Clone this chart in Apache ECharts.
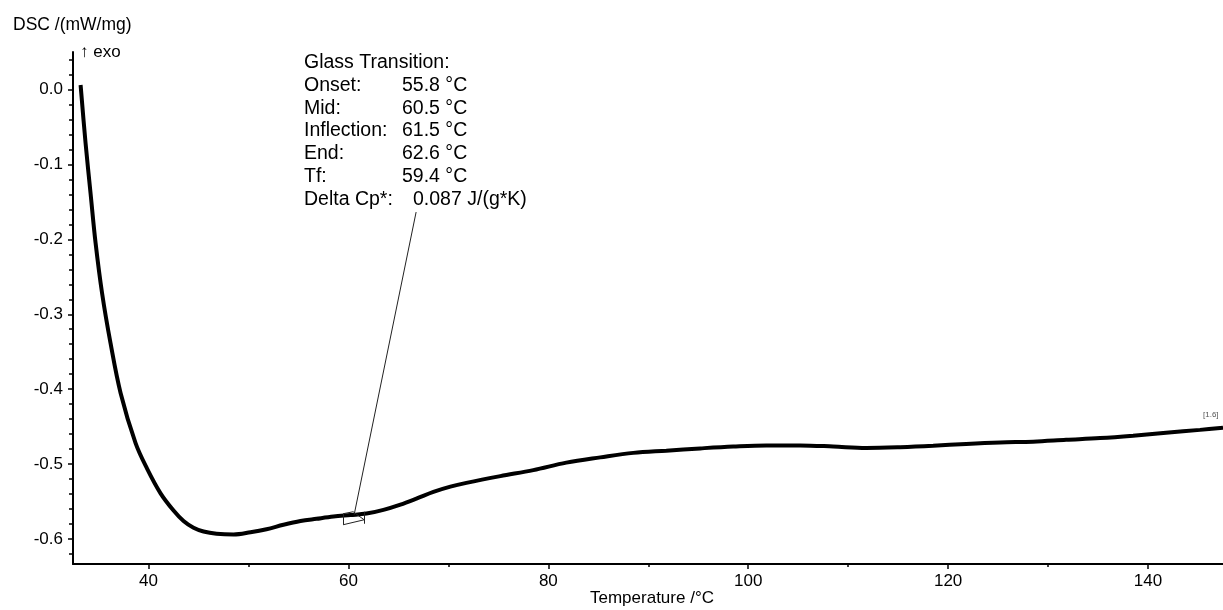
<!DOCTYPE html>
<html>
<head>
<meta charset="utf-8">
<script src="https://cdn.jsdelivr.net/npm/echarts@6/dist/echarts.min.js"></script>
<style>html,body{margin:0;padding:0;background:#fff}#c{width:1223px;height:610px}</style>
</head>
<body>
<div id="c"></div>
<script>
// ---- data ----
var temps = [33.2, 33.7, 34.2, 34.7, 35.35, 36.2, 37.2, 38.7, 39.85, 41.2, 42.5, 43.5, 44.5, 45.5, 46.8, 48.5, 50.2, 51.8, 53.5, 55.2, 56.8, 58.5, 60.2, 61.8, 63.5, 65.2, 66.8, 68.5, 70.2, 71.8, 75.2, 78.5, 81.8, 85.2, 88.5, 91.8, 95.2, 98.5, 101.8, 105.2, 108.5, 111.8, 115.2, 118.5, 121.8, 125.2, 128.5, 131.8, 135.2, 138.5, 141.8, 145.2, 147.5];
var dsc = [0.006, -0.072, -0.139, -0.205, -0.272, -0.339, -0.405, -0.472, -0.506, -0.539, -0.562, -0.576, -0.585, -0.590, -0.593, -0.594, -0.591, -0.587, -0.581, -0.576, -0.573, -0.570, -0.568, -0.566, -0.561, -0.554, -0.546, -0.537, -0.530, -0.525, -0.516, -0.508, -0.498, -0.491, -0.485, -0.482, -0.479, -0.4765, -0.475, -0.475, -0.4765, -0.4785, -0.4775, -0.4756, -0.473, -0.471, -0.470, -0.4676, -0.4653, -0.462, -0.458, -0.4543, -0.4516];
var xMajorTicks = [40, 60, 80, 100, 120, 140];
var xMinorTicks = [50, 70, 90, 110, 130];
var yMajorTicks = [-0.6, -0.5, -0.4, -0.3, -0.2, -0.1, 0.0];
var yMinorTicks = [-0.62, -0.58, -0.56, -0.54, -0.52, -0.48, -0.46, -0.44, -0.42, -0.38, -0.36, -0.34, -0.32, -0.28, -0.26, -0.24, -0.22, -0.18, -0.16, -0.14, -0.12, -0.08, -0.06, -0.04, -0.02, 0.02, 0.04];
var annotLabels = ['Onset:', 'Mid:', 'Inflection:', 'End:', 'Tf:', 'Delta Cp*:'];
var annotValues = ['55.8 °C', '60.5 °C', '61.5 °C', '62.6 °C', '59.4 °C', '0.087 J/(g*K)'];
var leaderLine = [[66.77, -0.1636], [60.57, -0.5676]];
var tgMarker = [[59.47, -0.5662], [60.47, -0.5636], [61.57, -0.5743], [59.47, -0.5809]];
var tgTick = [[61.57, -0.5636], [61.57, -0.5796]];

var FONT = 'Liberation Sans, Arial, sans-serif';
var chart = echarts.init(document.getElementById('c'));
var seriesData = temps.map(function (t, i) { return [t, dsc[i]]; });

var markerSegs = [];
for (var i = 0; i < tgMarker.length; i++) {
  var a = tgMarker[i], b = tgMarker[(i + 1) % tgMarker.length];
  markerSegs.push([{ coord: a }, { coord: b }]);
}
markerSegs.push([{ coord: tgTick[0] }, { coord: tgTick[1] }]);
markerSegs.push([{ coord: leaderLine[0] }, { coord: leaderLine[1] }]);

var graphics = [
  { type: 'text', left: 13, top: 16, style: { text: 'DSC /(mW/mg)', font: '17.5px ' + FONT, fill: '#000' } },
  { type: 'text', left: 80, top: 44, style: { text: '↑ exo', font: '17px ' + FONT, fill: '#000' } },
  { type: 'text', left: 590, top: 590, style: { text: 'Temperature /°C', font: '17px ' + FONT, fill: '#000' } },
  { type: 'text', left: 304, top: 53, style: { text: 'Glass Transition:', font: '19.5px ' + FONT, fill: '#000' } },
  { type: 'text', left: 1203, top: 411, style: { text: '[1.6]', font: '8px ' + FONT, fill: '#555' } }
];
for (var k = 0; k < annotLabels.length; k++) {
  var yy = 53 + 22.7 * (k + 1);
  graphics.push({ type: 'text', left: 304, top: yy, style: { text: annotLabels[k], font: '19.5px ' + FONT, fill: '#000' } });
  graphics.push({ type: 'text', left: k === 5 ? 413 : 402, top: yy, style: { text: annotValues[k], font: '19.5px ' + FONT, fill: '#000' } });
}

var axisLabelStyle = { color: '#000', fontSize: 17, fontFamily: FONT };

chart.setOption({
  animation: false,
  backgroundColor: '#fff',
  grid: { left: 73, right: 0, top: 52, bottom: 46, containLabel: false },
  xAxis: [
    {
      type: 'value', min: 32.44, max: 147.5,
      axisLine: { show: true, onZero: false, lineStyle: { color: '#000', width: 2 } },
      axisTick: { show: true, customValues: xMajorTicks, length: 5, lineStyle: { color: '#000', width: 1.5 } },
      axisLabel: Object.assign({ customValues: xMajorTicks, margin: 9 }, axisLabelStyle),
      splitLine: { show: false }
    },
    {
      type: 'value', min: 32.44, max: 147.5, position: 'bottom', offset: 0,
      axisLine: { show: false, onZero: false },
      axisTick: { show: true, customValues: xMinorTicks, length: 3, lineStyle: { color: '#000', width: 1.5 } },
      axisLabel: { show: false },
      splitLine: { show: false }
    }
  ],
  yAxis: [
    {
      type: 'value', min: -0.6333, max: 0.05,
      axisLine: { show: true, onZero: false, lineStyle: { color: '#000', width: 2 } },
      axisTick: { show: true, customValues: yMajorTicks, length: 5, lineStyle: { color: '#000', width: 1.5 } },
      axisLabel: Object.assign({ customValues: yMajorTicks, margin: 10, formatter: function (v) { return v.toFixed(1); } }, axisLabelStyle),
      splitLine: { show: false }
    },
    {
      type: 'value', min: -0.6333, max: 0.05, position: 'left', offset: 0,
      axisLine: { show: false, onZero: false },
      axisTick: { show: true, customValues: yMinorTicks, length: 4, lineStyle: { color: '#000', width: 1.5 } },
      axisLabel: { show: false },
      splitLine: { show: false }
    }
  ],
  graphic: graphics,
  series: [
    {
      type: 'line', data: seriesData, smooth: 0.35, showSymbol: false,
      lineStyle: { color: '#000', width: 4 },
      clip: true
    },
    {
      type: 'line', data: [], xAxisIndex: 0, yAxisIndex: 0,
      markLine: {
        silent: true, symbol: ['none', 'none'], label: { show: false },
        lineStyle: { color: '#222', width: 1, type: 'solid' },
        data: markerSegs
      }
    }
  ]
});
</script>
</body>
</html>
